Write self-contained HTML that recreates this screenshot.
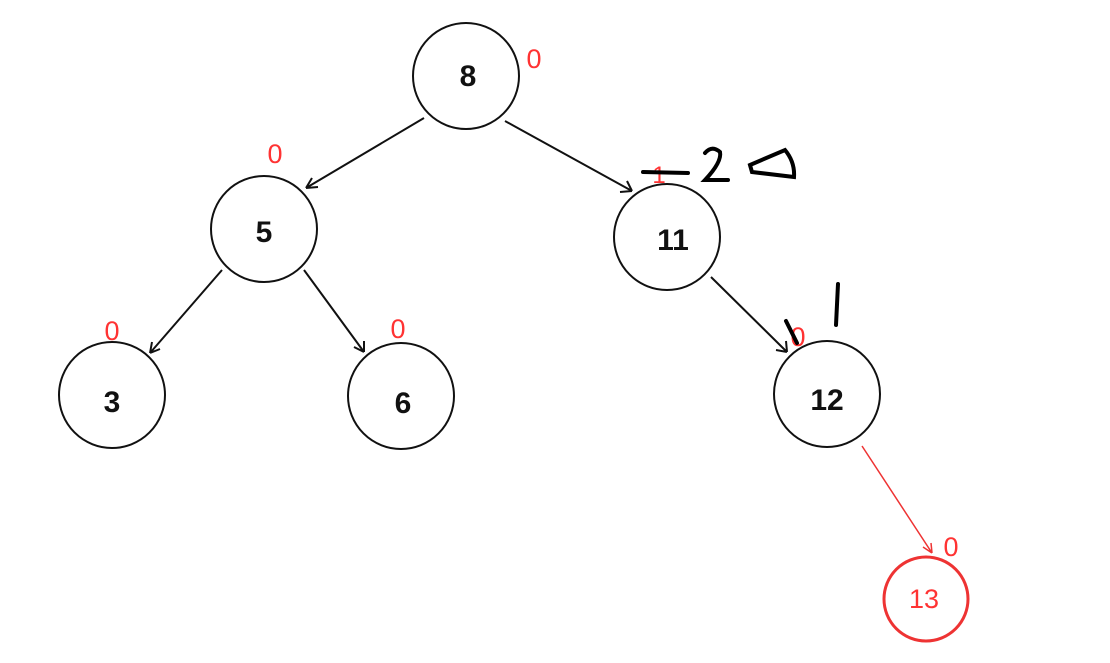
<!DOCTYPE html>
<html><head><meta charset="utf-8"><style>
html,body{margin:0;padding:0;background:#fff;}
svg{display:block;}
.n{fill:none;stroke:#111;stroke-width:2;}
.t{font-family:"Liberation Sans",sans-serif;font-weight:bold;font-size:30px;fill:#111;text-anchor:middle;}
.r{font-family:"Liberation Sans",sans-serif;font-size:27px;fill:#f33;text-anchor:middle;}
.e{stroke:#111;stroke-width:2;fill:none;}
</style></head><body>
<svg width="1110" height="663" viewBox="0 0 1110 663">
<circle class="n" cx="466" cy="76" r="53"/>
<text class="t" x="468" y="86">8</text>
<circle class="n" cx="264" cy="229" r="53"/>
<text class="t" x="264" y="242">5</text>
<circle class="n" cx="667" cy="237" r="53"/>
<text class="t" x="673" y="250">11</text>
<circle class="n" cx="112" cy="395" r="53"/>
<text class="t" x="112" y="412">3</text>
<circle class="n" cx="401" cy="396" r="53"/>
<text class="t" x="403" y="413">6</text>
<circle class="n" cx="827" cy="394" r="53"/>
<text class="t" x="827" y="410">12</text>
<circle cx="926" cy="599" r="42" fill="none" stroke="#e33" stroke-width="3"/>
<text class="r" x="924" y="608">13</text>

<path class="e" d="M424 118 L306 188 M306 188 l6 -10 M306 188 l12 -1"/>
<path class="e" d="M505 121 L632 191 M632 191 l-12 1 M632 191 l-5 -10"/>
<path class="e" d="M222 270 L150 353 M150 353 l2 -11 M150 353 l10 -4"/>
<path class="e" d="M304 270 L364 352 M364 352 l-10 -5 M364 352 l0 -11"/>
<path class="e" d="M711 277 L787 352 M787 352 l-11 -2 M787 352 l-1 -11"/>
<path d="M862 446 L932 553 M932 553 l-9 -6 M932 553 l-1 -10" stroke="#e33" stroke-width="1.5" fill="none"/>

<text class="r" x="534" y="68">0</text>
<text class="r" x="275" y="163">0</text>
<text class="r" x="112" y="340">0</text>
<text class="r" x="398" y="338">0</text>
<text class="r" x="798" y="346">0</text>
<text class="r" x="951" y="556">0</text>
<text class="r" x="659" y="183" style="font-size:24px">1</text>

<g stroke="#000" stroke-width="4" fill="none" stroke-linecap="round">
<path d="M643 172 L688 173"/>
<path d="M705 153 Q712 145 720 152 Q722 162 705 180 L728 180"/>
<path d="M750 165 L785 150 Q795 162 794 177 L752 172 Z"/>
<path d="M786 321 L797 343"/>
<path d="M838 284 L836 325"/>
</g>
</svg>
</body></html>
